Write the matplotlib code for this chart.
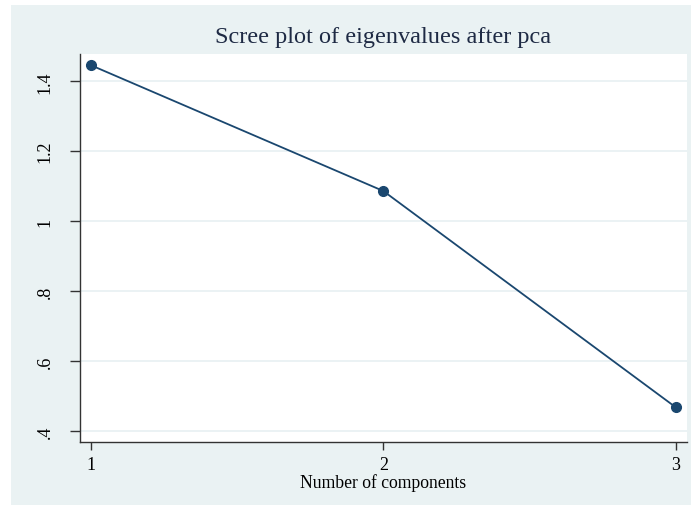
import matplotlib
matplotlib.use("Agg")
import matplotlib.pyplot as plt
from matplotlib.patches import Rectangle

components = [1, 2, 3]
eigenvalues = [1.446, 1.086, 0.467]
yticks = [0.4, 0.6, 0.8, 1.0, 1.2, 1.4]
ytick_labels = [".4", ".6", ".8", "1", "1.2", "1.4"]
xticks = [1, 2, 3]
xtick_labels = ["1", "2", "3"]

W, H = 691, 506
plt.rcParams['font.family'] = ['Liberation Serif', 'DejaVu Serif']
fig = plt.figure(figsize=(W / 100, H / 100), dpi=100, facecolor='white')

bg = '#EAF2F3'
rect = Rectangle((11 / W, 0), 1 - 11 / W, (H - 6) / H,
                 transform=fig.transFigure, facecolor=bg,
                 edgecolor='none', zorder=-10)
fig.add_artist(rect)

ax = fig.add_axes([80 / W, (H - 443) / H, (687 - 80) / W, (443 - 55) / H])
ax.set_zorder(5)
ax.set_facecolor('white')
line_color = '#1A476F'
ax.plot(components, eigenvalues, color=line_color, lw=1.3, marker='o',
        markersize=7, zorder=3, clip_on=False)

ax.set_xlim(0.963, 3.038)
ax.set_ylim(0.368, 1.478)
ax.set_yticks(yticks)
ax.set_yticklabels(ytick_labels, rotation=90, va='center', fontsize=13)
ax.set_xticks(xticks)
ax.set_xticklabels(xtick_labels, fontsize=13)
ax.grid(axis='y', color='#E8F0F2', lw=1.2)
ax.set_axisbelow(True)
for s in ['top', 'right']:
    ax.spines[s].set_visible(False)
for s in ['left', 'bottom']:
    ax.spines[s].set_color('#333333')
    ax.spines[s].set_linewidth(1.0)
ax.tick_params(axis='y', length=7, width=1, color='#333333', pad=12)
ax.tick_params(axis='x', length=6, width=1, color='#333333', pad=4)
ax.set_xlabel("Number of components", fontsize=12.7, labelpad=0)
fig.text((80 + 687) / 2 / W, (H - 38) / H, "Scree plot of eigenvalues after pca",
         ha='center', va='center', fontsize=17.5, color='#1E2A44')

fig.savefig("out.png", dpi=100, facecolor='white')
